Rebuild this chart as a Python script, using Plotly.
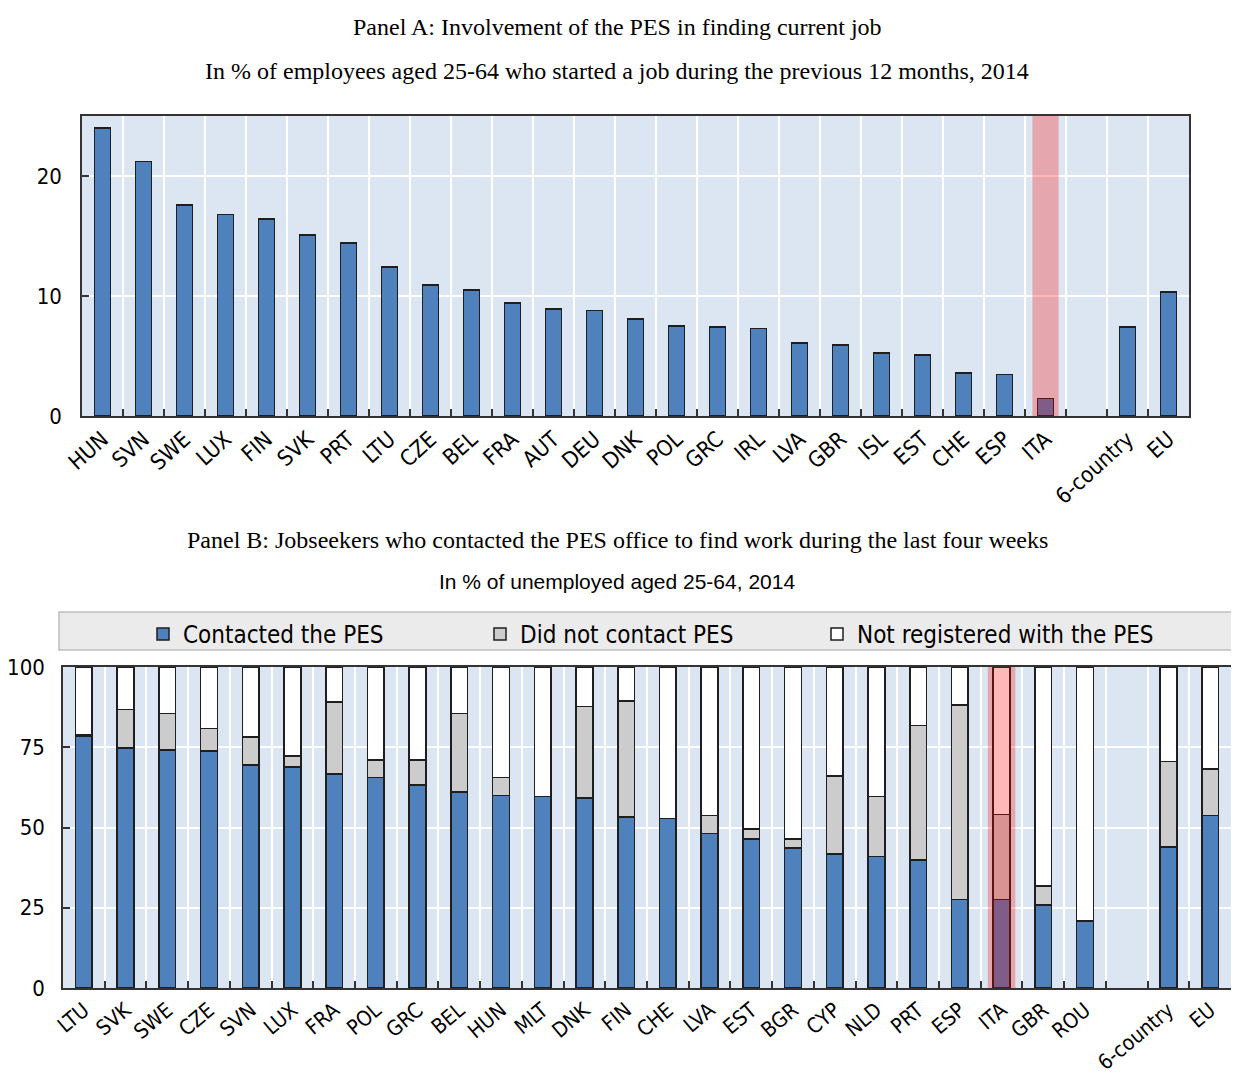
import plotly.graph_objects as go

W, H = 1239, 1075
OFF = 8  # default page margin of the html body
FW, FH = W - OFF, H - OFF

# ---------------- data ----------------
cats_a = ["HUN", "SVN", "SWE", "LUX", "FIN", "SVK", "PRT", "LTU", "CZE", "BEL", "FRA", "AUT",
          "DEU", "DNK", "POL", "GRC", "IRL", "LVA", "GBR", "ISL", "EST", "CHE", "ESP", "ITA",
          " ", "6-country", "EU"]
vals_a = [24.0, 21.2, 17.6, 16.8, 16.4, 15.1, 14.4, 12.4, 10.9, 10.5, 9.4, 8.9,
          8.8, 8.1, 7.5, 7.4, 7.3, 6.1, 5.9, 5.25, 5.1, 3.6, 3.45, 1.45,
          None, 7.4, 10.35]

cats_b = ["LTU", "SVK", "SWE", "CZE", "SVN", "LUX", "FRA", "POL", "GRC", "BEL", "HUN", "MLT",
          "DNK", "FIN", "CHE", "LVA", "EST", "BGR", "CYP", "NLD", "PRT", "ESP", "ITA", "GBR",
          "ROU", " ", "6-country", "EU"]
contacted = [78.5, 74.8, 74.2, 73.9, 69.4, 68.8, 66.7, 65.5, 63.3, 61.1, 60.0, 59.6,
             59.2, 53.2, 52.8, 48.2, 46.4, 43.6, 41.7, 40.9, 39.9, 27.5, 27.5, 25.8,
             20.8, None, 44.0, 53.7]
did_not = [0.4, 12.0, 11.3, 6.9, 8.8, 3.4, 22.4, 5.6, 7.8, 24.4, 5.6, 0.0,
           28.5, 36.2, 0.0, 5.5, 3.2, 2.8, 24.3, 18.7, 41.8, 60.6, 26.6, 6.0,
           0.0, None, 26.5, 14.6]
not_registered = [21.1, 13.2, 14.5, 19.2, 21.8, 27.8, 10.9, 28.9, 28.9, 14.5, 34.4, 40.4,
                  12.3, 10.6, 47.2, 46.3, 50.4, 53.6, 34.0, 40.4, 18.3, 11.9, 45.9, 68.2,
                  79.2, None, 29.5, 31.7]
series_names = ["Contacted the PES", "Did not contact PES", "Not registered with the PES"]
highlight = "ITA"

# ---------------- styling ----------------
BLUE = "#4F81BD"
GREY = "#CCCCCC"
WHITE = "#FFFFFF"
EDGE = "#1E1E1E"
PLOT_BG = "#DCE6F2"
NARROW = "DejaVu Sans Condensed, Liberation Sans Narrow, Arial Narrow, Liberation Sans, sans-serif"
SERIF = "Liberation Serif, Times New Roman, serif"
SANS = "Liberation Sans, Arial, sans-serif"


def px_x(p):
    return (p - OFF) / FW


def px_y(p):
    return 1 - (p - OFF) / FH


fig = go.Figure()

fig.add_trace(go.Bar(x=cats_a, y=vals_a, marker=dict(color=BLUE, line=dict(color=EDGE, width=1.5)),
                     width=0.4, showlegend=False, xaxis="x", yaxis="y"))

for name, vals, col in zip(series_names, [contacted, did_not, not_registered], [BLUE, GREY, WHITE]):
    fig.add_trace(go.Bar(x=cats_b, y=vals, name=name,
                         marker=dict(color=col, line=dict(color=EDGE, width=1.5)),
                         width=0.4, xaxis="x2", yaxis="y2"))

axis_common = dict(showline=True, linecolor="#333333", linewidth=1.5, mirror=True,
                   ticks="inside", ticklen=7, tickcolor="#333333", tickwidth=1.5,
                   gridcolor="white", gridwidth=1.5, zeroline=False, automargin=False)
tf22 = dict(family=NARROW, size=22, color="black")
tf21 = dict(family=NARROW, size=21, color="black")

fig.update_layout(
    template="none",
    width=FW, height=FH,
    margin=dict(l=0, r=0, t=0, b=0, pad=0),
    paper_bgcolor="white",
    plot_bgcolor=PLOT_BG,
    barmode="stack",
    xaxis=dict(domain=[px_x(82), px_x(1189)], anchor="y", type="category",
               categoryorder="array", categoryarray=cats_a, tickson="boundaries",
               range=[-0.5, len(cats_a) - 0.5], tickangle=-42, tickfont=tf22, **axis_common),
    yaxis=dict(domain=[px_y(416), px_y(116)], anchor="x", range=[0, 25],
               tickvals=[0, 10, 20], ticklabelstandoff=14, tickfont=tf22, **axis_common),
    xaxis2=dict(domain=[px_x(63), px_x(1231)], anchor="y2", type="category",
                categoryorder="array", categoryarray=cats_b, tickson="boundaries",
                range=[-0.5, len(cats_b) - 0.5], tickangle=-40, tickfont=tf21, **axis_common),
    yaxis2=dict(domain=[px_y(988), px_y(667)], anchor="x2", range=[0, 100],
                tickvals=[0, 25, 50, 75, 100], ticklabelstandoff=12, tickfont=tf22, **axis_common),
    legend=dict(orientation="h", x=px_x(143), y=px_y(612), xanchor="left", yanchor="top",
                bgcolor="rgba(0,0,0,0)", font=dict(family=NARROW, size=24, color="black"),
                entrywidth=292, entrywidthmode="pixels", traceorder="normal"),
    bargap=0.6,
)

# legend box
fig.add_shape(type="rect", xref="paper", yref="paper",
              x0=px_x(59), x1=px_x(1240), y0=px_y(650), y1=px_y(612),
              fillcolor="#EBEBEB", line=dict(color="#BFBFBF", width=1.5), layer="below")

# highlight bands
ia = cats_a.index(highlight)
fig.add_shape(type="rect", xref="x", yref="y", x0=ia - 0.32, x1=ia + 0.32, y0=-0.45, y1=25,
              fillcolor="rgba(255,0,0,0.28)", line=dict(width=0), layer="above")
ib = cats_b.index(highlight)
fig.add_shape(type="rect", xref="x2", yref="y2", x0=ib - 0.33, x1=ib + 0.33, y0=-1.0, y1=100,
              fillcolor="rgba(255,0,0,0.28)", line=dict(width=0), layer="above")

# titles
titles = [
    ("Panel A: Involvement of the PES in finding current job", 27, SERIF, 24),
    ("In % of employees aged 25-64 who started a job during the previous 12 months, 2014", 71, SERIF, 24),
    ("Panel B: Jobseekers who contacted the PES office to find work during the last four weeks", 540, SERIF, 24),
    ("In % of unemployed aged 25-64, 2014", 581, SANS, 21),
]
for text, ypx, fam, size in titles:
    fig.add_annotation(text=text, xref="paper", yref="paper", x=px_x(617), y=px_y(ypx),
                       xanchor="center", yanchor="middle", showarrow=False,
                       font=dict(family=fam, size=size, color="black"))

fig.write_html("out.html")
